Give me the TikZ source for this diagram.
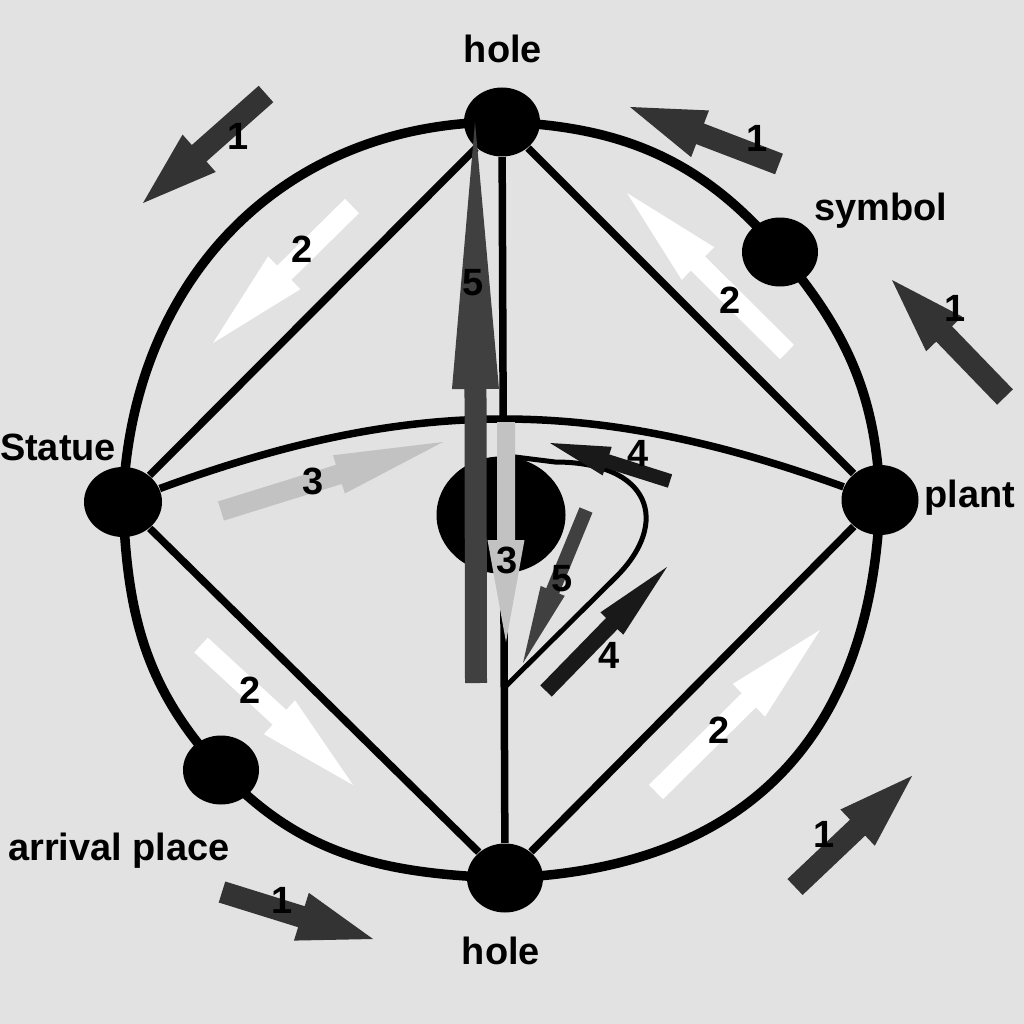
\documentclass[tikz,border=0pt]{standalone}
\usepackage{fontspec}
\setmainfont{Liberation Sans}
\usetikzlibrary{calc,shapes.geometric}
\definecolor{bggray}{RGB}{226,226,226}
\def\blockarrow[#1](#2)(#3)(#4:#5:#6){\fill[#1] ($(#2)!#4!90:(#3)$) -- ($(#3)!#6!(#2)!#4!-90:(#2)$) -- ($(#3)!#6!(#2)!#5!-90:(#2)$) -- (#3) -- ($(#3)!#6!(#2)!#5!90:(#2)$) -- ($(#3)!#6!(#2)!#4!90:(#2)$) -- ($(#2)!#4!-90:(#3)$) -- cycle;}

\begin{document}
\begin{tikzpicture}[x=0.1mm, y=-0.1mm,
		spot/.style={ellipse, fill=black, inner sep=0pt, minimum width=7.6mm, minimum height=6.9mm},
		ring/.style={line width=0.95mm},
		edge/.style={line width=0.75mm},
		loopline/.style={line width=0.5mm},
		lbl/.style={font=\bfseries\fontsize{10.8}{13}\selectfont, anchor=base},
		num/.style={font=\bfseries\fontsize{10.8}{13}\selectfont},
		flowone/.style={fill=black!80},
		flowtwo/.style={fill=white},
		flowthree/.style={fill=black!24},
		flowfour/.style={fill=black!90},
		flowfive/.style={fill=black!75}]
		%%%%% START %%%%%
		
		\useasboundingbox (0,0) rectangle (1024,1024);
		\fill[bggray] (0,0) rectangle (1024,1024);
		
		\node[spot] (holeTop) at (502,122) {};
		\node[spot] (holeBottom) at (505,878) {};
		\node[spot, minimum width=7.8mm, minimum height=7mm] (statue) at (123,502) {};
		\node[spot, minimum width=7.7mm, minimum height=7mm] (plant) at (880,500) {};
		\node[spot] (symbol) at (780,252) {};
		\node[spot] (arrival) at (221,770) {};
		\node[spot, minimum width=12.9mm, minimum height=11.7mm] (centre) at (501,515) {};
		\coordinate (loopStart) at (504,688);
		
		\draw[ring] (holeTop.center) to[out=-2, in=130] (symbol.center);
		\draw[ring] (symbol.center) to[out=-50, in=92] (plant.center);
		\draw[ring] (plant.center) to[out=-92, in=2, looseness=1.15] (holeBottom.center);
		\draw[ring] (holeBottom.center) to[out=178, in=-47] (arrival.center);
		\draw[ring] (arrival.center) to[out=133, in=-88] (statue.center);
		\draw[ring] (statue.center) to[out=88, in=180, looseness=1.05] (holeTop.center);
		
		\draw[edge] (holeTop) -- (statue);
		\draw[edge] (holeTop) -- (plant);
		\draw[edge] (holeTop) -- (holeBottom);
		\draw[edge] (statue) -- (holeBottom);
		\draw[edge] (plant) -- (holeBottom);
		\draw[edge] (statue) to[bend left=20] (plant);
		\draw[loopline] (loopStart) -- (615,578) .. controls (672,522) and (650,462) .. (555,462) -- (centre.80);
		
		\blockarrow[flowone](266,94)(143,203)(1.1mm:2.5mm:7.5mm);
		\blockarrow[flowone](779,164)(630,107)(1.1mm:2.5mm:7.5mm);
		\blockarrow[flowone](1005,397)(892,280)(1.1mm:2.5mm:7.5mm);
		\blockarrow[flowone](795,887)(912,776)(1.1mm:2.5mm:7.5mm);
		\blockarrow[flowone](222,892)(373,939)(1.1mm:2.5mm:7.5mm);
		
		\blockarrow[flowtwo](352,206)(213,343)(1mm:2.3mm:10mm);
		\blockarrow[flowtwo](787,352)(627,193)(1mm:2.3mm:10mm);
		\blockarrow[flowtwo](201,645)(353,785)(1mm:2.3mm:10mm);
		\blockarrow[flowtwo](656,792)(820,630)(1mm:2.3mm:10mm);
		
		\blockarrow[flowthree](221,511)(443,442)(1mm:2mm:10.9mm);
		\blockarrow[flowthree](506,422)(506,642)(0.9mm:1.85mm:10.2mm);
		
		\blockarrow[flowfour](670,481)(550,443)(0.7mm:1.5mm:6mm);
		\blockarrow[flowfour](546,691)(667,567)(0.8mm:1.6mm:7.9mm);
		
		\blockarrow[flowfive](476,683)(475,122)(1.1mm:2.35mm:26.7mm);
		\blockarrow[flowfive](586,510)(523,663)(0.7mm:1.3mm:7.8mm);
		
		\node[lbl] (holeTopText) at (503,63) {hole};
		\node[lbl] (holeBottomText) at (501,964) {hole};
		\node[lbl] (statueText) at (58,460) {Statue};
		\node[lbl] (plantText) at (970,507) {plant};
		\node[lbl] (symbolText) at (881,220) {symbol};
		\node[lbl] (arrivalText) at (119,860) {arrival place};
		
		\node[num] (oneA) at (238,136) {1};
		\node[num] (oneB) at (757,138) {1};
		\node[num] (oneC) at (955,308) {1};
		\node[num] (oneD) at (824,834) {1};
		\node[num] (oneE) at (282,900) {1};
		\node[num] (twoA) at (302,249) {2};
		\node[num] (twoB) at (730,300) {2};
		\node[num] (twoC) at (250,690) {2};
		\node[num] (twoD) at (719,730) {2};
		\node[num] (threeA) at (313,481) {3};
		\node[num] (threeB) at (507,560) {3};
		\node[num] (fourA) at (638,453) {4};
		\node[num] (fourB) at (609,655) {4};
		\node[num] (fiveA) at (473,283) {5};
		\node[num] (fiveB) at (562,579) {5};
		
		%%%%% END %%%%%
	\end{tikzpicture}
\end{document}
